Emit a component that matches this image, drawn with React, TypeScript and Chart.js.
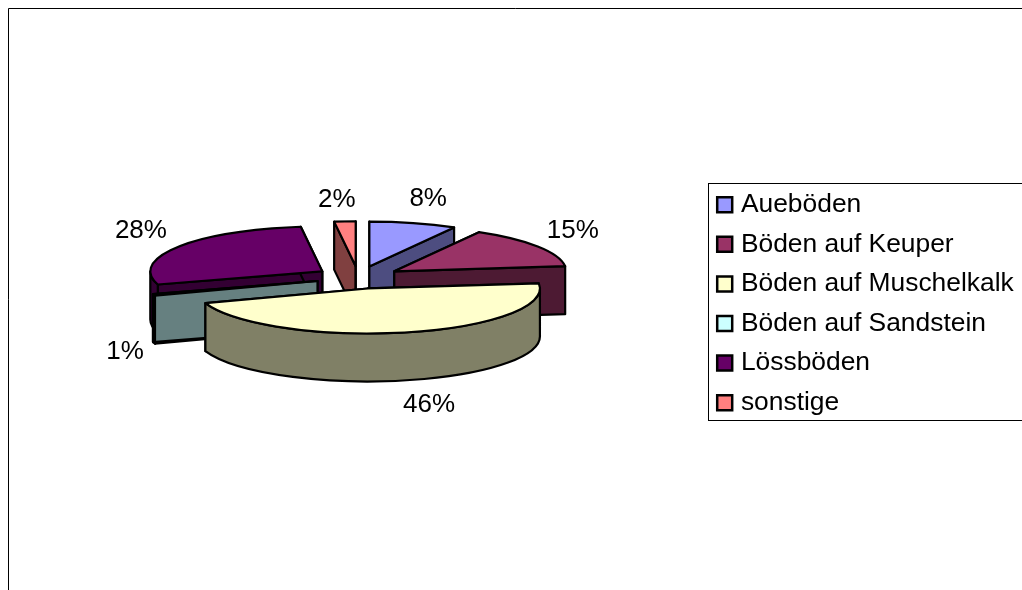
import React, { useEffect, useRef } from "react";
import { Chart, registerables } from "chart.js";

Chart.register(...registerables);

const categories = ["Aueböden", "Böden auf Keuper", "Böden auf Muschelkalk", "Böden auf Sandstein", "Lössböden", "sonstige"];
const shares = [8.2, 15, 46.49, 0.6, 27.71, 2];
const topColors = ["#9999FF", "#993366", "#FFFFCC", "#CCFFFF", "#660066", "#FF8080"];
const sideColors = ["#4D4D80", "#4D1A33", "#808066", "#668080", "#330033", "#804040"];
// distance of each percentage label from the outer rim of its slice
const labelShiftX = [15, 35, 23, -29, -37, -8];
const labelShiftY = [-24, -16, 24, 9, -16, -22];

const FONT = "Liberation Sans, Arial, sans-serif";
const PIE = { cx: 358.4, cy: 277.5, rx: 172, ry: 45, depth: 48, explode: 43 };
const LEGEND_BOX = { left: 708, top: 183, bottom: 420 };

const pie3d = {
  id: "pie3d",
  beforeDraw(chart: any) {
    const { ctx, width, height } = chart;
    ctx.save();
    ctx.strokeStyle = "#000";
    ctx.lineWidth = 1;
    ctx.beginPath();
    ctx.moveTo(8.5, height + 1);
    ctx.lineTo(8.5, 8.5);
    ctx.lineTo(width + 1, 8.5);
    ctx.stroke();
    ctx.strokeRect(LEGEND_BOX.left + 0.5, LEGEND_BOX.top + 0.5, width, LEGEND_BOX.bottom - LEGEND_BOX.top);
    ctx.restore();
  },
  beforeDatasetsDraw(chart: any) {
    const { ctx } = chart;
    const arcs: any[] = chart.getDatasetMeta(0).data;
    const items = arcs.map((arc, i) => {
      const mid = (arc.startAngle + arc.endAngle) / 2;
      const ax = PIE.cx + PIE.explode * Math.cos(mid);
      const ay = PIE.cy + (PIE.explode * Math.sin(mid) * PIE.ry) / PIE.rx;
      return { arc, i, mid, ax, ay };
    });
    const order = [...items].sort((a, b) => a.ay - b.ay);

    ctx.save();
    ctx.lineWidth = 2.2;
    ctx.lineJoin = "round";
    ctx.strokeStyle = "#000";
    for (const { arc, i, ax, ay } of order) {
      const s = arc.startAngle;
      const e = arc.endAngle;
      const x = (t: number) => ax + PIE.rx * Math.cos(t);
      const y = (t: number) => ay + PIE.ry * Math.sin(t);
      ctx.fillStyle = sideColors[i];
      for (const t of [s, e]) {
        ctx.beginPath();
        ctx.moveTo(ax, ay);
        ctx.lineTo(x(t), y(t));
        ctx.lineTo(x(t), y(t) + PIE.depth);
        ctx.lineTo(ax, ay + PIE.depth);
        ctx.closePath();
        ctx.fill();
        ctx.stroke();
      }
      const a = Math.max(s, 0);
      const b = Math.min(e, Math.PI);
      if (b > a) {
        ctx.beginPath();
        ctx.ellipse(ax, ay, PIE.rx, PIE.ry, 0, a, b, false);
        ctx.ellipse(ax, ay + PIE.depth, PIE.rx, PIE.ry, 0, b, a, true);
        ctx.closePath();
        ctx.fill();
        ctx.stroke();
      }
      // top face: the library's own arc, squashed into an ellipse
      ctx.save();
      ctx.translate(ax, ay);
      ctx.scale(PIE.rx / arc.outerRadius, PIE.ry / arc.outerRadius);
      ctx.translate(-arc.x, -arc.y);
      arc.draw(ctx);
      ctx.restore();
      ctx.beginPath();
      ctx.moveTo(ax, ay);
      ctx.ellipse(ax, ay, PIE.rx, PIE.ry, 0, s, e, false);
      ctx.closePath();
      ctx.stroke();
    }
    ctx.fillStyle = "#000";
    ctx.font = `26px ${FONT}`;
    ctx.textAlign = "center";
    ctx.textBaseline = "middle";
    for (const { i, mid, ax, ay } of items) {
      const front = Math.sin(mid) > 0.2 ? PIE.depth : 0;
      const lx = ax + PIE.rx * Math.cos(mid) + labelShiftX[i];
      const ly = ay + PIE.ry * Math.sin(mid) + front + labelShiftY[i];
      ctx.fillText(`${Math.round(shares[i])}%`, lx, ly);
    }
    ctx.restore();
    return false;
  },
};

const placeLegend = {
  id: "placeLegend",
  beforeDraw(chart: any) {
    const legend = chart.legend;
    const w = legend.right - legend.left;
    const h = legend.bottom - legend.top;
    legend.left = 708.5;
    legend.right = legend.left + w;
    legend.top = 178.3;
    legend.bottom = legend.top + h;
  },
};

export default function App() {
  const ref = useRef<HTMLCanvasElement>(null);
  useEffect(() => {
    const chart = new Chart(ref.current as HTMLCanvasElement, {
      type: "pie",
      data: {
        labels: categories,
        datasets: [{ data: shares, backgroundColor: topColors, borderWidth: 0, borderColor: "#000" }],
      },
      options: {
        responsive: false,
        animation: false,
        events: [],
        plugins: {
          tooltip: { enabled: false },
          title: { display: false },
          legend: {
            display: true,
            position: "right",
            align: "start",
            labels: {
              color: "#000",
              font: { family: FONT, size: 26.4 },
              usePointStyle: true,
              pointStyle: "rect",
              boxWidth: 6,
              boxHeight: 15,
              padding: 13.2,
              generateLabels() {
                return categories.map((text, i) => ({
                  text,
                  fillStyle: topColors[i],
                  strokeStyle: "#000",
                  lineWidth: 2.5,
                  pointStyle: "rect",
                  hidden: false,
                  index: i,
                }));
              },
            },
          },
        },
      } as any,
      plugins: [placeLegend, pie3d],
    });
    return () => chart.destroy();
  }, []);
  return (
    <canvas
      ref={ref}
      width={1022}
      height={590}
      style={{ position: "absolute", left: 0, top: 0, width: 1022, height: 590, background: "#fff" }}
    />
  );
}
